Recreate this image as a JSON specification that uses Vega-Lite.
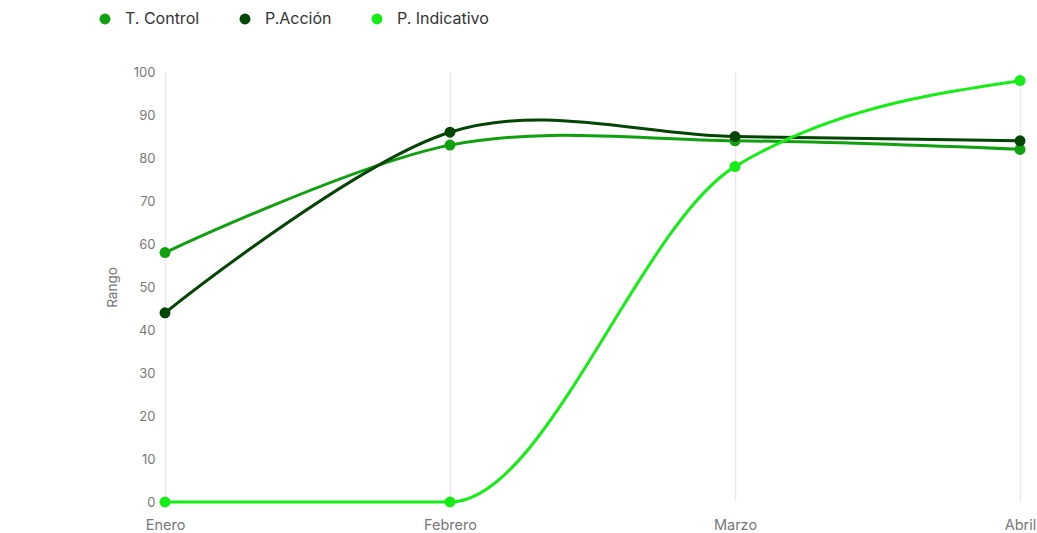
{
  "$schema": "https://vega.github.io/schema/vega-lite/v6.json",
  "autosize": "none",
  "width": 855,
  "height": 430,
  "padding": {"left": 165, "top": 72, "right": 17, "bottom": 31},
  "background": "white",
  "config": {
    "font": "Inter",
    "view": {"stroke": null}
  },
  "data": {
    "values": [
      {"mes": "Enero", "serie": "T. Control", "valor": 58},
      {"mes": "Febrero", "serie": "T. Control", "valor": 83},
      {"mes": "Marzo", "serie": "T. Control", "valor": 84},
      {"mes": "Abril", "serie": "T. Control", "valor": 82},
      {"mes": "Enero", "serie": "P.Acción", "valor": 44},
      {"mes": "Febrero", "serie": "P.Acción", "valor": 86},
      {"mes": "Marzo", "serie": "P.Acción", "valor": 85},
      {"mes": "Abril", "serie": "P.Acción", "valor": 84},
      {"mes": "Enero", "serie": "P. Indicativo", "valor": 0},
      {"mes": "Febrero", "serie": "P. Indicativo", "valor": 0},
      {"mes": "Marzo", "serie": "P. Indicativo", "valor": 78},
      {"mes": "Abril", "serie": "P. Indicativo", "valor": 98}
    ]
  },
  "encoding": {
    "x": {
      "field": "mes",
      "type": "ordinal",
      "sort": ["Enero", "Febrero", "Marzo", "Abril"],
      "scale": {"type": "point", "padding": 0},
      "axis": {
        "title": null,
        "labelAngle": 0,
        "labelColor": "#777777",
        "labelFontSize": 14.5,
        "labelPadding": 16,
        "grid": true,
        "gridColor": "#eaeaea",
        "gridWidth": 1.5,
        "domain": false,
        "ticks": false
      }
    },
    "y": {
      "field": "valor",
      "type": "quantitative",
      "scale": {"domain": [0, 100], "nice": false},
      "axis": {
        "title": "Rango",
        "titleColor": "#777777",
        "titleFontSize": 13.5,
        "titleFontWeight": "normal",
        "titlePadding": 14,
        "values": [0, 10, 20, 30, 40, 50, 60, 70, 80, 90, 100],
        "labelColor": "#777777",
        "labelFontSize": 13,
        "labelPadding": 10,
        "grid": false,
        "domain": false,
        "ticks": false
      }
    },
    "color": {
      "field": "serie",
      "type": "nominal",
      "sort": ["T. Control", "P.Acción", "P. Indicativo"],
      "scale": {
        "domain": ["T. Control", "P.Acción", "P. Indicativo"],
        "range": ["#0fa00f", "#034503", "#14ee14"]
      },
      "legend": {
        "title": null,
        "orient": "none",
        "legendX": -68,
        "legendY": -61,
        "direction": "horizontal",
        "symbolType": "circle",
        "symbolSize": 120,
        "symbolStrokeWidth": 0,
        "labelFontSize": 16,
        "labelColor": "#333333",
        "labelOffset": 12,
        "columnPadding": 37
      }
    }
  },
  "layer": [
    {
      "transform": [{"filter": "datum.serie !== 'P. Indicativo'"}],
      "mark": {"type": "line", "interpolate": "cardinal", "strokeWidth": 3}
    },
    {
      "transform": [{"filter": "datum.serie === 'P. Indicativo'"}],
      "mark": {"type": "line", "interpolate": "monotone", "strokeWidth": 3}
    },
    {
      "mark": {"type": "point", "filled": true, "size": 120, "opacity": 1}
    }
  ]
}
